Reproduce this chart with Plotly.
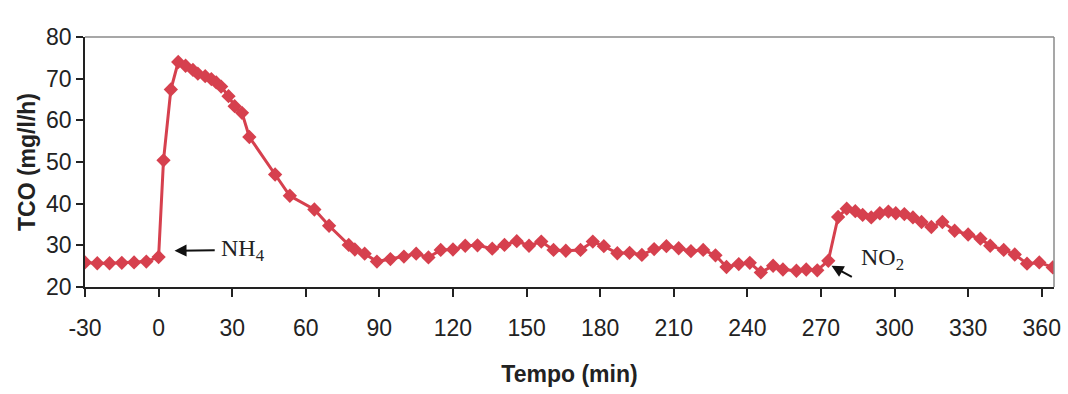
import plotly.graph_objects as go

# Oxygen consumption rate (TCO) over time; NH4 added at t=0, NO2 at t≈272
tempo_min = [
    -30, -25, -20, -15, -10, -5, 0, 2, 5, 8, 11, 14, 16, 19, 21.5, 23.5, 25.5,
    28.5, 31, 34, 37, 47.5, 53.5, 63.5, 69.5, 77.5, 80, 84, 89, 94.5, 100, 105,
    110, 115, 120, 125, 130, 136, 141, 146, 151, 156, 161, 166, 172, 177, 181.5,
    187, 192, 197, 202, 207, 212, 217, 222, 227, 231.5, 236.5, 241, 245.5,
    250.5, 254.5, 260, 264, 268.5, 273, 277, 280.5, 284, 287, 290.5, 294,
    297.5, 300.5, 304, 307.5, 311, 315, 319.5, 324.5, 330, 335, 339, 344.5,
    349, 354, 359, 364.5,
]
tco_mg_l_h = [
    25.9, 25.7, 25.7, 25.8, 25.9, 26.1, 27.2, 50.4, 67.4, 74.0, 73.1, 72.1,
    71.2, 70.6, 69.9, 69.1, 68.1, 65.8, 63.4, 61.8, 56.0, 47.0, 41.9, 38.6,
    34.7, 30.1, 29.0, 28.0, 26.1, 26.7, 27.3, 28.0, 27.1, 28.9, 29.0, 29.9,
    30.0, 29.2, 30.1, 31.0, 29.9, 30.9, 28.9, 28.7, 28.9, 30.9, 29.8, 28.1,
    28.2, 27.7, 29.1, 29.8, 29.3, 28.6, 28.9, 27.6, 24.8, 25.5, 25.8, 23.5,
    25.1, 24.2, 23.9, 24.2, 24.0, 26.3, 36.8, 38.8, 38.2, 37.3, 36.7, 37.7,
    38.1, 37.7, 37.5, 36.7, 35.6, 34.4, 35.6, 33.5, 32.6, 31.6, 29.9, 28.9,
    27.8, 25.6, 25.9, 24.7,
]
x_ticks = [-30, 0, 30, 60, 90, 120, 150, 180, 210, 240, 270, 300, 330, 360]
y_ticks = [20, 30, 40, 50, 60, 70, 80]

RED = "#d6404e"
AXIS = "#222222"
FRAME = "#8a8a8a"
SANS = "Liberation Sans, Arial, sans-serif"
SERIF = "Liberation Serif, Times New Roman, serif"

fig = go.Figure()
fig.add_trace(go.Scatter(
    x=tempo_min, y=tco_mg_l_h, mode="lines+markers",
    line=dict(color=RED, width=3),
    marker=dict(symbol="diamond", size=11, color=RED),
    showlegend=False, hoverinfo="x+y",
))

# event labels: NH4 dosing at t=0, NO2 dosing near t=272
fig.add_annotation(x=6.5, y=28.7, ax=34.5, ay=28.9, xref="x", yref="y",
                   axref="x", ayref="y", text="NH<sub>4</sub>",
                   showarrow=True, arrowhead=2, arrowsize=1.2, arrowwidth=2,
                   arrowcolor="#111", standoff=0, startstandoff=5,
                   font=dict(family=SERIF, size=24, color="#222"))
fig.add_annotation(x=274.3, y=25.1, ax=283.2, ay=22.2, xref="x", yref="y",
                   axref="x", ayref="y", text="", showarrow=True,
                   arrowhead=2, arrowsize=1.2, arrowwidth=2, arrowcolor="#111")
fig.add_annotation(x=285.5, y=26.7, xref="x", yref="y", text="NO<sub>2</sub>",
                   showarrow=False, xanchor="left", yanchor="middle",
                   font=dict(family=SERIF, size=24, color="#222"))

# lighter top and right frame edges
fig.add_shape(type="line", xref="paper", yref="paper", x0=0, x1=1, y0=1, y1=1,
              line=dict(color=FRAME, width=1.5))
fig.add_shape(type="line", xref="paper", yref="paper", x0=1, x1=1, y0=0, y1=1,
              line=dict(color=FRAME, width=1.5))

fig.update_xaxes(
    range=[-30, 365], tickvals=x_ticks, ticktext=[str(v) for v in x_ticks],
    showgrid=False, zeroline=False, showline=True, linecolor=AXIS, linewidth=1.5,
    ticks="outside", ticklen=8, tickcolor=AXIS, tickwidth=1.5,
    ticklabelstandoff=12,
    tickfont=dict(family=SANS, size=23, color="#222"),
    title=dict(text="<b>Tempo (min)</b>", standoff=26,
               font=dict(family=SANS, size=23, color="#222")),
)
fig.update_yaxes(
    range=[20, 80], tickvals=y_ticks, ticktext=[str(v) for v in y_ticks],
    showgrid=False, zeroline=False, showline=True, linecolor=AXIS, linewidth=1.5,
    ticks="outside", ticklen=7, tickcolor=AXIS, tickwidth=1.5,
    tickfont=dict(family=SANS, size=23, color="#222"),
    title=dict(text="<b>TCO (mg/l/h)</b>", standoff=4,
               font=dict(family=SANS, size=23, color="#222")),
)

fig.update_layout(
    width=1068, height=394,
    margin=dict(l=85, r=7, t=37, b=107),
    paper_bgcolor="white", plot_bgcolor="white",
)

fig.write_html("out.html")
